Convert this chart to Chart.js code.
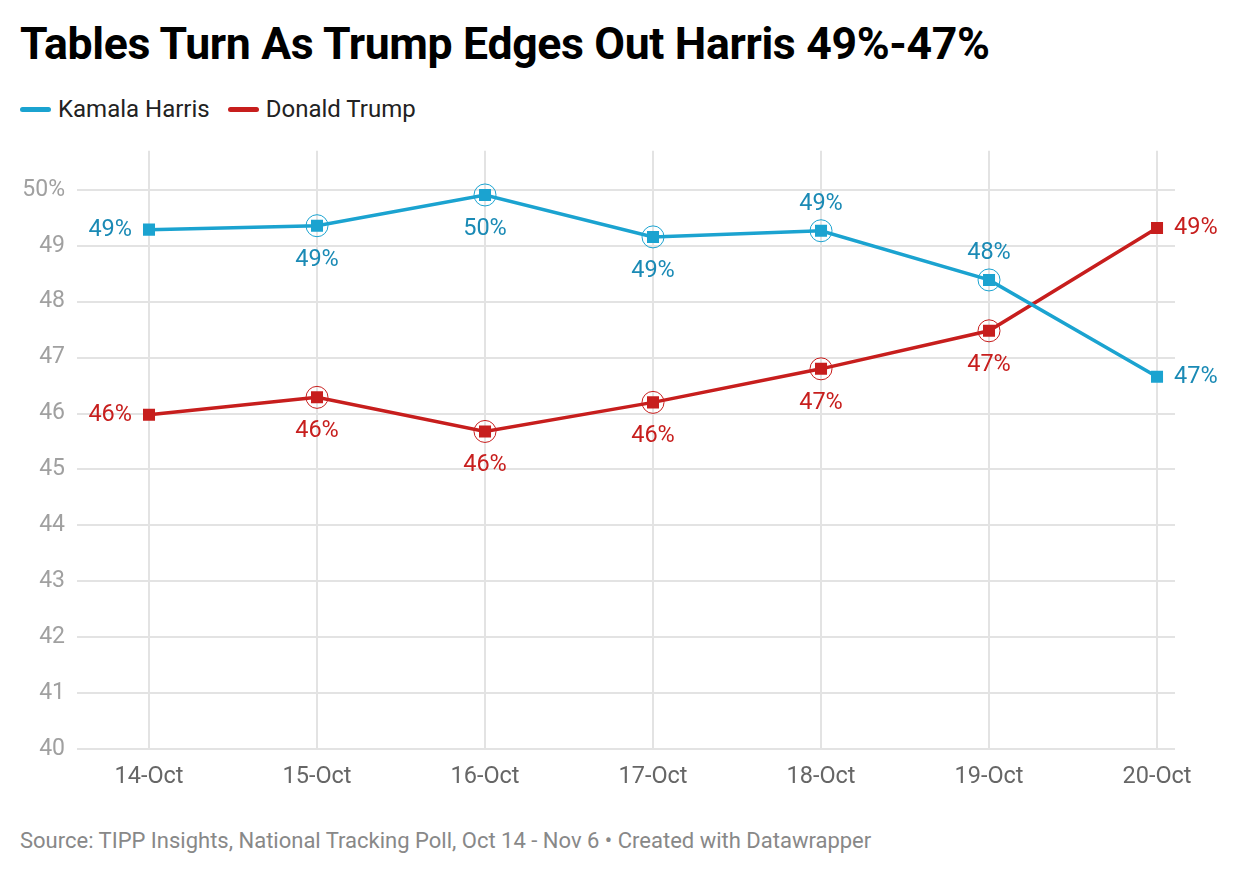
<!DOCTYPE html>
<html>
<head>
<meta charset="utf-8">
<script src="https://cdn.jsdelivr.net/npm/chart.js@4"></script>
<style>
  body { margin: 0; background: #fff; font-family: Roboto, sans-serif; width: 1240px; height: 876px; position: relative; overflow: hidden; }
  #title { position: absolute; left: 20px; top: 18px; font-size: 44.6px; font-weight: 700; color: #000; letter-spacing: -0.35px; }
  #legend { position: absolute; left: 20px; top: 95px; font-size: 24px; color: #222; display: flex; }
  .item { display: flex; align-items: center; margin-right: 18px; }
  .swatch { width: 31px; height: 5px; border-radius: 2.5px; margin-right: 7px; }
  #wrap { position: absolute; left: 0; top: 125px; width: 1240px; height: 675px; }
  #source { position: absolute; left: 20px; top: 828px; font-size: 22px; color: #888; }
</style>
</head>
<body>
<div id="title">Tables Turn As Trump Edges Out Harris 49%-47%</div>
<div id="legend">
  <div class="item"><span class="swatch" style="background:#1ba3d0"></span>Kamala Harris</div>
  <div class="item"><span class="swatch" style="background:#c71e1d"></span>Donald Trump</div>
</div>
<div id="wrap"><canvas id="chart"></canvas></div>
<div id="source">Source: TIPP Insights, National Tracking Poll, Oct 14 - Nov 6 • Created with Datawrapper</div>
<script>
// data
const dates = ['14-Oct', '15-Oct', '16-Oct', '17-Oct', '18-Oct', '19-Oct', '20-Oct'];
const harris = [49.29, 49.36, 49.91, 49.16, 49.27, 48.39, 46.66];
const trump = [45.98, 46.29, 45.68, 46.2, 46.8, 47.48, 49.32];
const harrisLabels = ['49%', '49%', '50%', '49%', '49%', '48%', '47%'];
const trumpLabels = ['46%', '46%', '46%', '46%', '47%', '47%', '49%'];
const yTicks = [40, 41, 42, 43, 44, 45, 46, 47, 48, 49, 50];

// where each label sits relative to its point
const harrisPos = ['left', 'below', 'below', 'below', 'above', 'above', 'right'];
const trumpPos = ['left', 'below', 'below', 'below', 'below', 'below', 'right'];

const BLUE = '#1ba3d0', BLUE_TXT = '#1a8ab5';
const RED = '#c71e1d', RED_TXT = '#c71e1d';

function pts(arr) {
  return arr.map((v, i) => ({ x: i, y: v }));
}

// circles around middle points + value labels
const labelPlugin = {
  id: 'labels',
  afterDatasetsDraw(chart) {
    const ctx = chart.ctx;
    const sets = [
      { idx: 0, labels: harrisLabels, pos: harrisPos, line: BLUE, txt: BLUE_TXT },
      { idx: 1, labels: trumpLabels, pos: trumpPos, line: RED, txt: RED_TXT }
    ];
    sets.forEach(s => {
      const meta = chart.getDatasetMeta(s.idx);
      meta.data.forEach((p, i) => {
        ctx.save();
        if (i > 0 && i < meta.data.length - 1) {
          ctx.beginPath();
          ctx.arc(p.x, p.y, 11, 0, Math.PI * 2);
          ctx.strokeStyle = s.line;
          ctx.lineWidth = 1;
          ctx.stroke();
        }
        ctx.font = '23.5px Roboto';
        ctx.fillStyle = s.txt;
        ctx.textBaseline = 'middle';
        const pos = s.pos[i];
        if (pos === 'left') {
          ctx.textAlign = 'right';
          ctx.fillText(s.labels[i], p.x - 17, p.y);
        } else if (pos === 'right') {
          ctx.textAlign = 'left';
          ctx.fillText(s.labels[i], p.x + 17, p.y);
        } else if (pos === 'below') {
          ctx.textAlign = 'center';
          ctx.fillText(s.labels[i], p.x, p.y + 34);
        } else {
          ctx.textAlign = 'center';
          ctx.fillText(s.labels[i], p.x, p.y - 27);
        }
        ctx.restore();
      });
    });
  }
};

new Chart(document.getElementById('chart'), {
  type: 'line',
  data: {
    datasets: [
      { label: 'Kamala Harris', data: pts(harris), borderColor: BLUE, backgroundColor: BLUE, borderWidth: 3.5,
        pointStyle: 'rect', pointRadius: 8.5, pointHoverRadius: 8.5, pointBorderWidth: 0, tension: 0 },
      { label: 'Donald Trump', data: pts(trump), borderColor: RED, backgroundColor: RED, borderWidth: 3.5,
        pointStyle: 'rect', pointRadius: 8.5, pointHoverRadius: 8.5, pointBorderWidth: 0, tension: 0 }
    ]
  },
  options: {
    responsive: true,
    maintainAspectRatio: false,
    animation: false,
    layout: { padding: { top: 10, right: 65, left: 0, bottom: 0 } },
    plugins: { legend: { display: false }, tooltip: { enabled: false } },
    scales: {
      x: {
        type: 'linear',
        min: -0.4286,
        max: 6.107,
        afterBuildTicks: s => { s.ticks = dates.map((d, i) => ({ value: i })); },
        afterFit: s => { s.height = 51; },
        grid: { color: '#e3e3e3', lineWidth: 2, drawTicks: false },
        border: { display: false },
        ticks: {
          padding: 14,
          color: '#666',
          font: { family: 'Roboto', size: 23.5 },
          maxRotation: 0,
          callback: v => dates[v]
        }
      },
      y: {
        min: 40,
        max: 50.7,
        afterBuildTicks: s => { s.ticks = yTicks.map(v => ({ value: v })); },
        afterFit: s => { s.width = 77; },
        grid: { color: '#e3e3e3', lineWidth: 2, drawTicks: false },
        border: { display: false },
        ticks: {
          padding: 12,
          color: '#a0a0a0',
          font: { family: 'Roboto', size: 23 },
          callback: v => v === 50 ? '50%' : String(v)
        }
      }
    }
  },
  plugins: [labelPlugin]
});
</script>
</body>
</html>
